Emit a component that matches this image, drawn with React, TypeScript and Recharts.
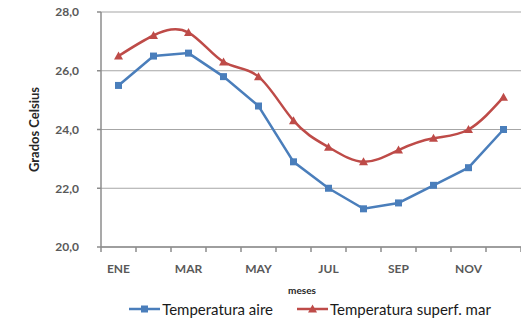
import { LineChart, Line, XAxis, YAxis, CartesianGrid, Legend } from 'recharts'

const meses = ['ENE', 'FEB', 'MAR', 'ABR', 'MAY', 'JUN', 'JUL', 'AGO', 'SEP', 'OCT', 'NOV', 'DIC']
const tempAire = [25.5, 26.5, 26.6, 25.8, 24.8, 22.9, 22.0, 21.3, 21.5, 22.1, 22.7, 24.0]
const tempMar = [26.5, 27.2, 27.3, 26.3, 25.8, 24.3, 23.4, 22.9, 23.3, 23.7, 24.0, 25.1]
const yTicks = [20, 22, 24, 26, 28]

const data = meses.map((m, i) => ({ mes: m, aire: tempAire[i], mar: tempMar[i] }))

const AZUL = '#4a7ebb'
const ROJO = '#be4b48'
const GRIS = '#8c8c8c'
const font = 'Lato, "Open Sans", sans-serif'
const HALF = 17.5 // half a category step, so tick marks sit between months

const Square = (props: any) => {
  const { cx, cy } = props
  if (cx == null || cy == null) return null
  return <rect x={cx - 3.5} y={cy - 3.5} width={7} height={7} fill={AZUL} />
}

const Tri = (props: any) => {
  const { cx, cy } = props
  if (cx == null || cy == null) return null
  return <path d={`M${cx},${cy - 4.5}L${cx + 4.5},${cy + 3.5}L${cx - 4.5},${cy + 3.5}Z`} fill={ROJO} />
}

const MonthTick = (props: any) => {
  const { x, y, payload } = props
  const i = payload.index
  return (
    <g>
      <line x1={x - HALF} y1={y} x2={x - HALF} y2={y + 5} stroke={GRIS} strokeWidth={1.5} />
      {i === meses.length - 1 && <line x1={x + HALF} y1={y} x2={x + HALF} y2={y + 5} stroke={GRIS} strokeWidth={1.5} />}
      {i % 2 === 0 && (
        <text x={x} y={y + 26} textAnchor="middle" fill="#595959" fontSize={12} fontWeight={700} fontFamily={font}>
          {payload.value}
        </text>
      )}
    </g>
  )
}

const fmt = (v: number) => v.toFixed(1).replace('.', ',')

const LegendContent = () => (
  <div style={{ display: 'flex', justifyContent: 'center', alignItems: 'center', fontFamily: font, fontSize: 15, color: '#1a1a1a' }}>
    <svg width={31} height={10}>
      <line x1={0} y1={5} x2={31} y2={5} stroke={AZUL} strokeWidth={2.5} />
      <rect x={12} y={1.5} width={7} height={7} fill={AZUL} />
    </svg>
    <span style={{ marginLeft: 2, marginRight: 24 }}>Temperatura aire</span>
    <svg width={31} height={10}>
      <line x1={0} y1={5} x2={31} y2={5} stroke={ROJO} strokeWidth={2.5} />
      <path d="M15.5,0.5L20,8.5L11,8.5Z" fill={ROJO} />
    </svg>
    <span style={{ marginLeft: 2 }}>Temperatura superf. mar</span>
  </div>
)

export default function App() {
  return (
    <div style={{ position: 'absolute', left: 0, top: 0, background: '#fff' }}>
      <LineChart width={521} height={322} data={data} margin={{ top: 12, right: 0, left: 0, bottom: 0 }}>
        <CartesianGrid vertical={false} stroke="#a6a6a6" strokeWidth={1.2} />
        <XAxis
          dataKey="mes"
          interval={0}
          padding={{ left: HALF, right: HALF }}
          tickLine={false}
          tickSize={0}
          tickMargin={0}
          height={53}
          stroke={GRIS}
          strokeWidth={1.5}
          tick={<MonthTick />}
          label={{ value: 'meses', position: 'insideBottom', offset: 6, dx: -9, fill: '#262626', fontSize: 10, fontWeight: 700, fontFamily: font }}
        />
        <YAxis
          domain={[20, 28]}
          ticks={yTicks}
          width={101}
          tickSize={4}
          tickMargin={18}
          tickFormatter={fmt}
          stroke={GRIS}
          strokeWidth={1.5}
          tick={{ fill: '#595959', fontSize: 12, fontWeight: 700, fontFamily: font }}
          label={{ value: 'Grados Celsius', angle: -90, position: 'insideLeft', offset: 34, fill: '#262626', fontSize: 13, fontWeight: 700, fontFamily: font, style: { textAnchor: 'middle' } }}
        />
        <Line
          dataKey="aire"
          name="Temperatura aire"
          type="linear"
          stroke={AZUL}
          strokeWidth={2.5}
          dot={<Square />}
          activeDot={false}
          isAnimationActive={false}
        />
        <Line
          dataKey="mar"
          name="Temperatura superf. mar"
          type="natural"
          stroke={ROJO}
          strokeWidth={2.5}
          dot={<Tri />}
          activeDot={false}
          isAnimationActive={false}
        />
        <Legend verticalAlign="bottom" height={22} content={<LegendContent />} wrapperStyle={{ left: 95, width: 430, bottom: 0 }} />
      </LineChart>
    </div>
  )
}
